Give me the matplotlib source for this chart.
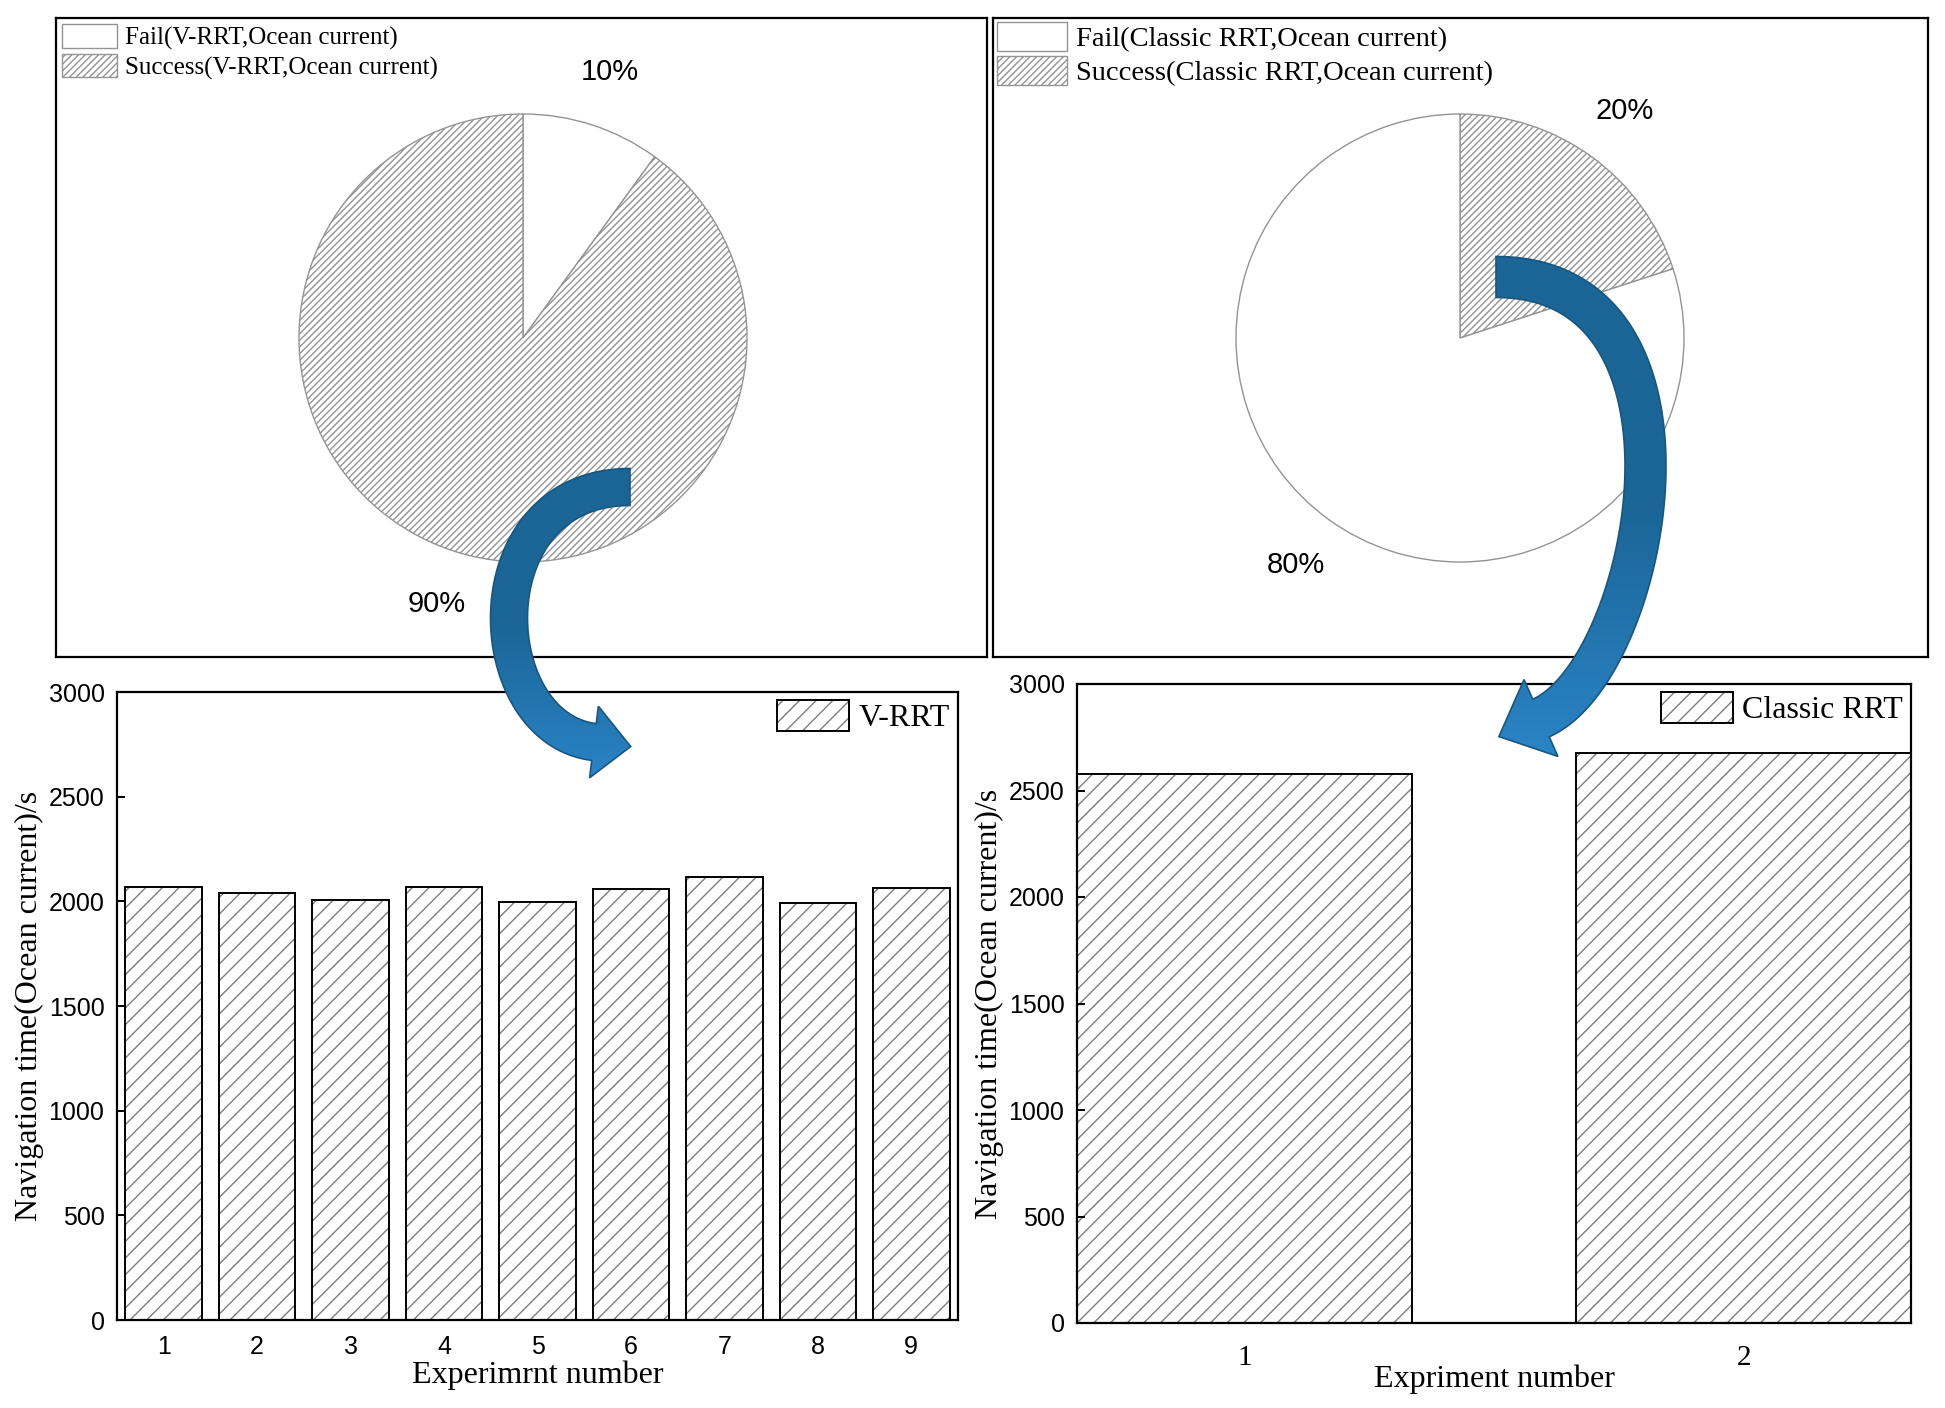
import numpy as np
import matplotlib.pyplot as plt
from matplotlib.patches import Polygon
from matplotlib.colors import LinearSegmentedColormap

serif = 'Liberation Serif'
sans = 'Liberation Sans'

# pie data
vrrt_pie_labels = ["Fail(V-RRT,Ocean current)", "Success(V-RRT,Ocean current)"]
vrrt_pie_values = [10, 90]
rrt_pie_labels = ["Success(Classic RRT,Ocean current)", "Fail(Classic RRT,Ocean current)"]
rrt_pie_values = [20, 80]

# navigation time data
vrrt_runs = [1, 2, 3, 4, 5, 6, 7, 8, 9]
vrrt_time = [2068, 2038, 2005, 2068, 1999, 2058, 2115, 1990, 2063]
rrt_runs = [1, 2]
rrt_time = [2578, 2676]
yticks = [0, 500, 1000, 1500, 2000, 2500, 3000]

plt.rcParams['hatch.linewidth'] = 1.0

fig = plt.figure(figsize=(19.45, 14.08), dpi=100)


def pie_panel(rect, values, labels, hatches, legend_order, fs_legend, hl, hh, pad):
    ax = fig.add_axes(rect)
    w = rect[2] * 1945
    h = rect[3] * 1408
    wedges, texts, pcts = ax.pie(values, labels=labels, labeldistance=None, colors=['white', 'white'],
                                 hatch=hatches, startangle=90, counterclock=False,
                                 center=(467, 319), radius=224, frame=True,
                                 autopct='%.0f%%', pctdistance=1.25,
                                 wedgeprops=dict(edgecolor='#949494', linewidth=1.0),
                                 textprops=dict(fontsize=21, family=sans))
    ax.set_xlim(0, w)
    ax.set_ylim(0, h)
    ax.set_xticks([])
    ax.set_yticks([])
    for s in ax.spines.values():
        s.set_linewidth(1.6)
    handles = [wedges[i] for i in legend_order]
    ax.legend(handles=handles, labels=[labels[i] for i in legend_order], loc='upper left',
              frameon=False, prop=dict(family=serif, size=fs_legend), handlelength=hl,
              handleheight=hh, handletextpad=0.3, labelspacing=0.15,
              borderpad=0.15, borderaxespad=pad)
    return ax


pie_panel([56 / 1945, 1 - 657 / 1408, 931 / 1945, 639 / 1408],
          vrrt_pie_values, vrrt_pie_labels, ['', '/////'], [0, 1], 18, 2.2, 1.08, 0.1)
pie_panel([993 / 1945, 1 - 657 / 1408, 935 / 1945, 639 / 1408],
          rrt_pie_values, rrt_pie_labels, ['/////', ''], [1, 0], 20.5, 2.45, 1.15, 0.0)


def bar_panel(rect, runs, times, width, xlim, label, xlabel, tick_font, tick_size, xpad, xlpad):
    ax = fig.add_axes(rect)
    b1 = ax.bar(runs, times, width=width, color='white', edgecolor='#7c7c7c', hatch='//', linewidth=0)
    b2 = ax.bar(runs, times, width=width, fill=False, edgecolor='black', linewidth=1.4)
    ax.set_xlim(*xlim)
    ax.set_ylim(0, 3000)
    ax.set_yticks(yticks)
    ax.set_yticklabels([str(t) for t in yticks], family=sans, fontsize=18)
    ax.set_xticks(runs)
    ax.set_xticklabels([str(r) for r in runs], family=tick_font, fontsize=tick_size)
    ax.tick_params(axis='y', direction='in', length=6, width=1.4, pad=9)
    ax.tick_params(axis='x', length=0, pad=xpad)
    for s in ax.spines.values():
        s.set_linewidth(1.6)
    ax.set_ylabel("Navigation time(Ocean current)/s", family=serif, fontsize=23, labelpad=3)
    ax.set_xlabel(xlabel, family=serif, fontsize=23, labelpad=xlpad)
    ax.legend(handles=[(b1[0], b2[0])], labels=[label], loc='upper right',
              frameon=False, prop=dict(family=serif, size=23), handlelength=2.25,
              handleheight=1.1, handletextpad=0.3, borderpad=0.15, borderaxespad=0.1)
    return ax


bar_panel([117 / 1945, 1 - 1320 / 1408, 841 / 1945, 628 / 1408],
          vrrt_runs, vrrt_time, 0.82, (0.5, 9.5), "V-RRT", "Experimrnt number", sans, 18, 11, 1)
bar_panel([1077 / 1945, 1 - 1323 / 1408, 834 / 1945, 639 / 1408],
          rrt_runs, rrt_time, 0.67, (0.665, 2.335), "Classic RRT", "Expriment number", serif, 21, 16, -5)

# curved block arrows linking pies to bar charts (overlay in pixel coords)
over = fig.add_axes([0, 0, 1, 1], zorder=10)
over.axis('off')
over.patch.set_alpha(0)
blues = LinearSegmentedColormap.from_list('arrow', ['#1b6597', '#1b6597', '#2a84c6'])


def block_arrow(p, tail, head_w, head_l):
    p = np.asarray(p, dtype=float)
    t = np.linspace(0, 1, 120)[:, None]
    pts = ((1 - t) ** 3 * p[0] + 3 * (1 - t) ** 2 * t * p[1]
           + 3 * (1 - t) * t ** 2 * p[2] + t ** 3 * p[3])
    d = (3 * (1 - t) ** 2 * (p[1] - p[0]) + 6 * (1 - t) * t * (p[2] - p[1])
         + 3 * t ** 2 * (p[3] - p[2]))
    d = d / np.linalg.norm(d, axis=1)[:, None]
    n = np.column_stack([-d[:, 1], d[:, 0]])
    side1 = pts + n * tail / 2
    side2 = pts - n * tail / 2
    tip = p[3] + d[-1] * head_l
    head = [p[3] + n[-1] * head_w / 2, tip, p[3] - n[-1] * head_w / 2]
    verts = np.vstack([side1, head, side2[::-1]])
    poly = Polygon(verts, closed=True, facecolor='none', edgecolor='#17577f', linewidth=1.2, zorder=3)
    over.add_patch(poly)
    x0, y0 = verts.min(axis=0)
    x1, y1 = verts.max(axis=0)
    grad = np.linspace(0, 1, 256)[:, None]
    im = over.imshow(grad, extent=(x0, x1, y1, y0), cmap=blues, aspect='auto',
                     origin='upper', zorder=2)
    im.set_clip_path(poly)


block_arrow([(630, 487), (470, 487), (480, 728), (594, 742)], 37, 72, 37)
block_arrow([(1496, 277), (1725, 277), (1650, 670), (1541, 718)], 41, 84, 46)

over.set_xlim(0, 1945)
over.set_ylim(1408, 0)

plt.savefig("out.png", dpi=100)
